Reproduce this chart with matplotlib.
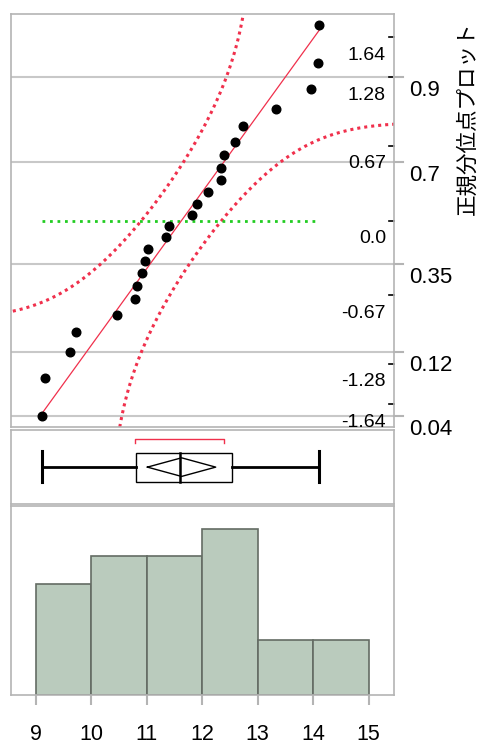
import numpy as np
import matplotlib
matplotlib.use("Agg")
import matplotlib.pyplot as plt
import matplotlib.transforms as mtransforms
from statistics import NormalDist

plt.rcParams['font.family'] = ['Liberation Sans', 'Noto Sans CJK JP', 'DejaVu Sans']

values = [9.11, 9.16, 9.61, 9.73, 10.47, 10.79, 10.82, 10.91, 10.97, 11.03,
          11.34, 11.40, 11.81, 11.90, 12.11, 12.33, 12.34, 12.40, 12.59, 12.73,
          13.33, 13.97, 14.09, 14.11]
bin_edges = [9, 10, 11, 12, 13, 14, 15]
x_ticks = [9, 10, 11, 12, 13, 14, 15]
z_ticks = [1.64, 1.28, 0.67, 0.0, -0.67, -1.28, -1.64]
z_labels = ['1.64', '1.28', '0.67', '0.0', '-0.67', '-1.28', '-1.64']
prob_ticks = [0.9, 0.7, 0.35, 0.12, 0.04]
prob_labels = ['0.9', '0.7', '0.35', '0.12', '0.04']
title = '正規分位点プロット'

lillie_d = 0.19
t_crit = 2.069

nd = NormalDist()
data = np.array(values)
n = len(data)
mean = data.mean()
sd = data.std(ddof=1)
zq = np.array([nd.inv_cdf(r / (n + 1)) for r in range(1, n + 1)])

W, H = 484, 746
fig = plt.figure(figsize=(W / 100, H / 100), dpi=100)
xl, xr = 11, 394


def add(top, bottom):
    return fig.add_axes([xl / W, 1 - bottom / H, (xr - xl) / W, (bottom - top) / H])


ax_q = add(14, 427)
ax_b = add(429.5, 504)
ax_h = add(505.5, 695)

xlim = (8.55, 15.46)
grid_c = '#c8c8c8'
spine_c = '#b4b4b4'
red = '#f0304c'

for ax in (ax_q, ax_b, ax_h):
    ax.set_xlim(*xlim)
    for s in ax.spines.values():
        s.set_color(spine_c)
        s.set_linewidth(1.2)
    ax.set_yticks([])
for ax in (ax_q, ax_b):
    ax.set_xticks([])

# --- normal quantile plot ---
zlim = 1.848
ax_q.set_ylim(-zlim, zlim)
for p in prob_ticks:
    ax_q.axhline(nd.inv_cdf(p), color=grid_c, lw=1.5, zorder=0)

zz = np.linspace(-zlim, zlim, 400)
pp = np.array([nd.cdf(z) for z in zz])
lo_ok = pp - lillie_d > 1e-6
hi_ok = pp + lillie_d < 1 - 1e-6
x_lo = [mean + sd * nd.inv_cdf(p - lillie_d) for p in pp[lo_ok]]
x_hi = [mean + sd * nd.inv_cdf(p + lillie_d) for p in pp[hi_ok]]
ax_q.plot(x_lo, zz[lo_ok], color=red, lw=2.2, ls=(0, (1, 1.3)))
ax_q.plot(x_hi, zz[hi_ok], color=red, lw=2.2, ls=(0, (1, 1.3)))

ax_q.plot([data.min(), data.max()], [0, 0], color='#22cc22', lw=2.0, ls=(0, (1, 1.7)))
ax_q.plot([data.min(), data.max()],
          [(data.min() - mean) / sd, (data.max() - mean) / sd], color=red, lw=0.9)
ax_q.plot(data, zq, 'o', color='black', ms=6.2, zorder=5)

blend = mtransforms.blended_transform_factory(ax_q.transAxes, ax_q.transData)
for z, lab in zip(z_ticks, z_labels):
    ax_q.plot([0.988, 1.0], [z, z], color='black', lw=1.2, transform=blend, clip_on=False)
    off = mtransforms.ScaledTranslation(0, -13.2 / 72, fig.dpi_scale_trans)
    ax_q.text(0.979, z, lab, transform=blend + off, ha='right', va='center', fontsize=14)
for p, lab in zip(prob_ticks, prob_labels):
    z = nd.inv_cdf(p)
    ax_q.plot([1.0, 1.024], [z, z], color=spine_c, lw=1.5, transform=blend, clip_on=False)
    off = mtransforms.ScaledTranslation(0, -9.8 / 72, fig.dpi_scale_trans)
    ax_q.text(1.039, z, lab, transform=blend + off, ha='left', va='center', fontsize=16)

fig.text(468 / W, 1 - 118 / H, title, rotation=90, ha='center', va='center', fontsize=15.5)

# --- outlier box plot ---
ax_b.set_ylim(0, 1)
q1, med, q3 = np.percentile(data, [25, 50, 75], method='weibull')
ax_b.plot([data.min(), q1], [0.5, 0.5], color='black', lw=2.0)
ax_b.plot([q3, data.max()], [0.5, 0.5], color='black', lw=2.0)
for v in (data.min(), data.max()):
    ax_b.plot([v, v], [0.30, 0.71], color='black', lw=2.2)
ax_b.add_patch(plt.Rectangle((q1, 0.30), q3 - q1, 0.39, fill=False, ec='black', lw=1.0))
ax_b.plot([med, med], [0.30, 0.69], color='black', lw=1.8)
half = t_crit * sd / np.sqrt(n)
ax_b.plot([mean - half, mean, mean + half, mean, mean - half],
          [0.495, 0.62, 0.495, 0.37, 0.495], color='black', lw=1.0)
h = n // 2 + 1
widths = data[h - 1:] - data[:n - h + 1]
i = int(np.argmin(widths))
ax_b.plot([data[i], data[i], data[i + h - 1], data[i + h - 1]],
          [0.815, 0.872, 0.872, 0.815], color=red, lw=1.0)

# --- histogram ---
ax_h.hist(data, bins=bin_edges, color='#bacbbd', edgecolor='#646c64', lw=1.2)
ax_h.set_ylim(0, 6.83)
ax_h.set_xticks(x_ticks)
ax_h.tick_params(axis='x', length=7, width=1.5, color=spine_c, labelsize=15.5, pad=14)

fig.savefig('out.png', dpi=100)
